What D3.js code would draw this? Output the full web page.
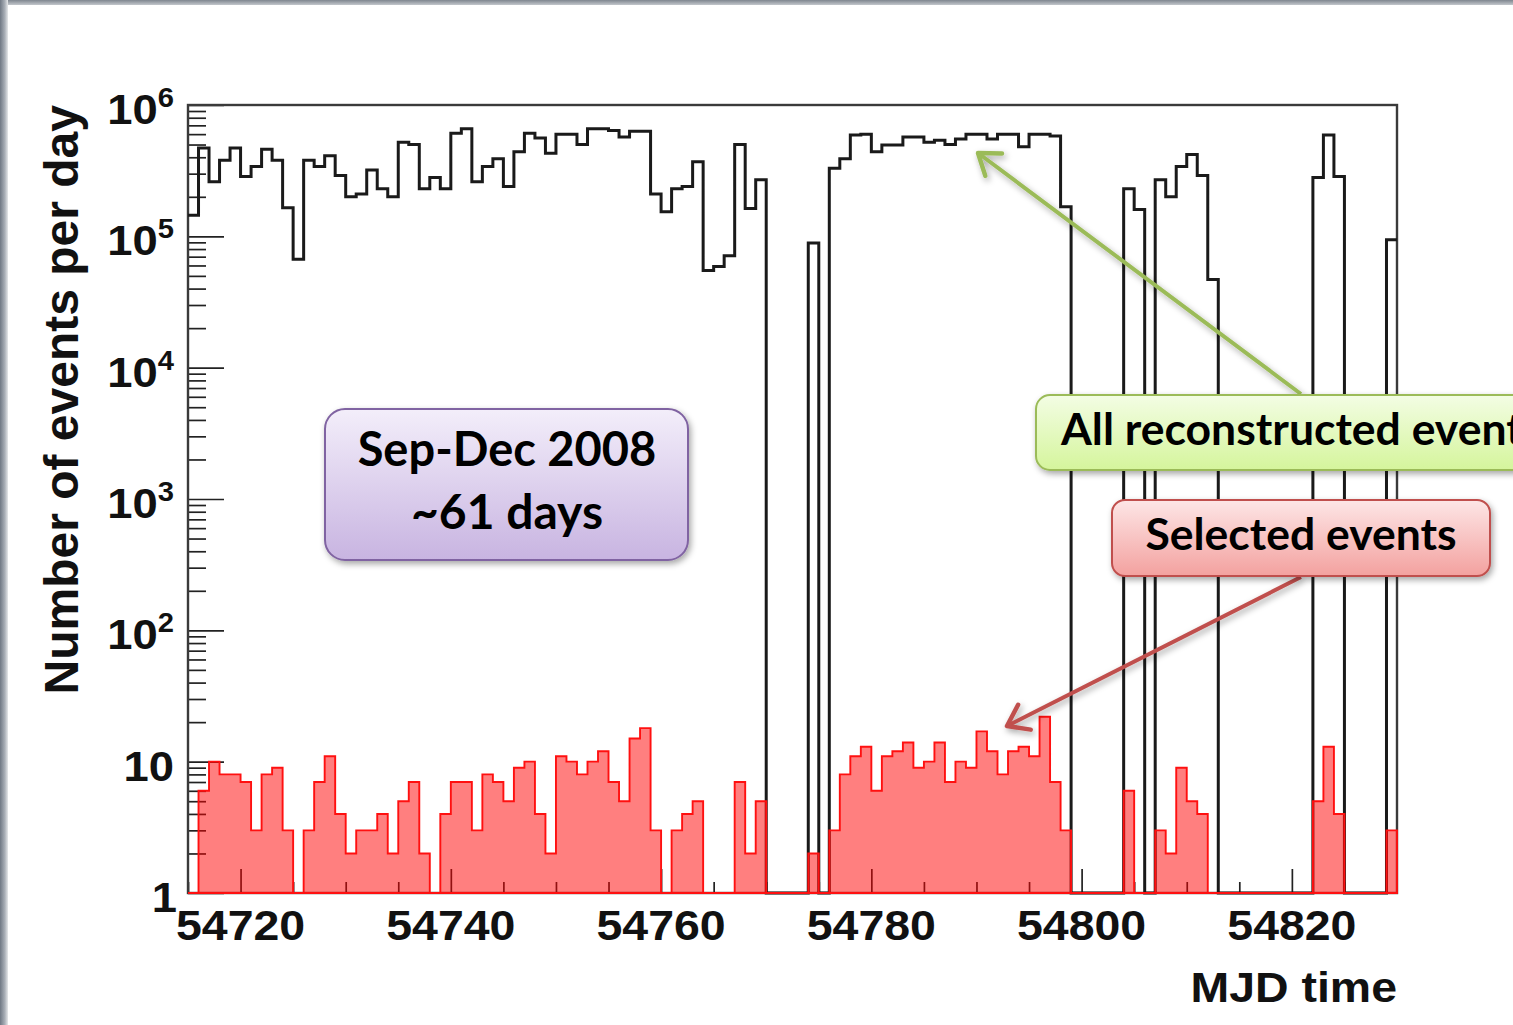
<!DOCTYPE html>
<html>
<head>
<meta charset="utf-8">
<script src="https://cdn.jsdelivr.net/npm/d3@7"></script>
<style>
html, body { margin:0; padding:0; background:#fff; overflow:hidden; }
svg { display:block; }
.axis-text { font-family: "Liberation Sans", Arial, Helvetica, sans-serif; font-weight: bold; fill: #111; }
.note { font-family: Lato, "Open Sans", sans-serif; font-weight: bold; fill: #000; }
</style>
</head>
<body>
<svg id="chart" width="1513" height="1025"></svg>
<script>
// one bin per MJD day, 54715 .. 54829
var days = d3.range(54715, 54830);

var allEvents = [
  1.45e5, 4.7e5, 2.6e5, 3.8e5, 4.7e5, 2.85e5, 3.4e5, 4.6e5, 3.8e5, 1.65e5,
  6.7e4, 3.8e5, 3.4e5, 4.1e5, 2.9e5, 2.0e5, 2.1e5, 3.2e5, 2.3e5, 2.0e5,
  5.2e5, 5.0e5, 2.3e5, 2.8e5, 2.3e5, 6.1e5, 6.6e5, 2.6e5, 3.4e5, 3.9e5,
  2.4e5, 4.4e5, 6.1e5, 5.6e5, 4.3e5, 6.0e5, 6.0e5, 5.0e5, 6.6e5, 6.6e5,
  6.4e5, 5.7e5, 6.3e5, 6.3e5, 2.1e5, 1.54e5, 2.3e5, 2.4e5, 3.7e5, 5.5e4,
  5.9e4, 7.1e4, 5.0e5, 1.63e5, 2.7e5, 0, 0, 0, 0, 8.9e4,
  0, 3.3e5, 3.9e5, 5.9e5, 6.0e5, 4.4e5, 4.95e5, 4.95e5, 5.7e5, 5.7e5,
  5.2e5, 5.4e5, 5.0e5, 5.5e5, 6.0e5, 6.0e5, 5.5e5, 6.0e5, 6.0e5, 4.8e5,
  6.0e5, 6.0e5, 5.8e5, 1.68e5, 0, 0, 0, 0, 0, 2.3e5,
  1.6e5, 0, 2.7e5, 2.0e5, 3.4e5, 4.2e5, 2.9e5, 4.7e4, 0, 0,
  0, 0, 0, 0, 0, 0, 0, 2.8e5, 5.9e5, 2.85e5,
  0, 0, 0, 0, 9.4e4
];

var selectedEvents = [
  0, 6, 10, 8, 8, 7, 3, 8, 9, 3,
  0, 3, 7, 11, 4, 2, 3, 3, 4, 2,
  5, 7, 2, 0, 4, 7, 7, 3, 8, 7,
  5, 9, 10, 4, 2, 11, 10, 8, 10, 12,
  7, 5, 15, 18, 3, 0, 3, 4, 5, 0,
  0, 0, 7, 2, 5, 0, 0, 0, 0, 2,
  0, 3, 8, 11, 13, 6, 11, 12, 14, 9,
  10, 14, 7, 10, 9, 17, 12, 8, 12, 13,
  11, 22, 7, 3, 0, 0, 0, 0, 0, 6,
  0, 0, 3, 2, 9, 5, 4, 0, 0, 0,
  0, 0, 0, 0, 0, 0, 0, 5, 13, 4,
  0, 0, 0, 0, 3
];

var xMajorTicks = [54720, 54740, 54760, 54780, 54800, 54820];
var xMinorTicks = [54715, 54725, 54730, 54735, 54745, 54750, 54755, 54765, 54770, 54775,
                   54785, 54790, 54795, 54805, 54810, 54815, 54825];
var yExponents = [0, 1, 2, 3, 4, 5, 6];

var width = 1513, height = 1025;
var plotLeft = 188, plotRight = 1397, plotTop = 105, plotBottom = 893;
var sx = 1.08; // text in the slide is a bit wider than it is tall

var svg = d3.select("#chart");
var defs = svg.append("defs");

var x = d3.scaleLinear().domain([54715, 54830]).range([plotLeft, plotRight]);
var y = d3.scaleLog().domain([1, 1e6]).range([plotBottom, plotTop]);

function yv(v){
    return v > 0 ? y(v) : y(1);
}

function addGradient(id, x2, y2, stops){
    var g = defs.append("linearGradient").attr("id", id)
        .attr("x1", 0).attr("y1", 0).attr("x2", x2).attr("y2", y2);
    stops.forEach(function(s){
        g.append("stop").attr("offset", s[0]).attr("stop-color", s[1]);
    });
}

addGradient("gPurple", 0, 1, [[0, "#f3eefa"], [1, "#c8b4e1"]]);
addGradient("gGreen", 0, 1, [[0, "#f3fde4"], [1, "#d5f59c"]]);
addGradient("gRed", 0, 1, [[0, "#fde6e6"], [1, "#f3a19f"]]);
addGradient("gTop", 0, 1, [[0, "#7f868f"], [1, "#c3c7cc"]]);
addGradient("gLeft", 1, 0, [[0, "#6f7884"], [0.6, "#a9afb7"], [1, "#e6e8ea"]]);

var shadow = defs.append("filter").attr("id", "shadow")
    .attr("x", "-20%").attr("y", "-20%").attr("width", "140%").attr("height", "160%");
shadow.append("feDropShadow").attr("dx", 2).attr("dy", 3).attr("stdDeviation", 3)
    .attr("flood-color", "#000").attr("flood-opacity", 0.35);

// slide edges
svg.append("rect").attr("x", 0).attr("y", 0).attr("width", width).attr("height", 5).attr("fill", "url(#gTop)");
svg.append("rect").attr("x", 0).attr("y", 0).attr("width", 8).attr("height", height).attr("fill", "url(#gLeft)");

// ticks, drawn inside the frame like ROOT does
var yMinor = [];
yExponents.slice(0, 6).forEach(function(e){
    for(var k = 2; k <= 9; k++){ yMinor.push(k * Math.pow(10, e)); }
});

var axes = svg.append("g").attr("class", "axes");

axes.append("g")
    .attr("transform", "translate(" + plotLeft + ",0)")
    .call(d3.axisLeft(y).tickValues(yExponents.map(function(e){ return Math.pow(10, e); }))
        .tickSize(-36).tickFormat(""))
    .call(function(g){ g.select(".domain").remove(); });
axes.append("g")
    .attr("transform", "translate(" + plotLeft + ",0)")
    .call(d3.axisLeft(y).tickValues(yMinor).tickSize(-18).tickFormat(""))
    .call(function(g){ g.select(".domain").remove(); });
axes.append("g")
    .attr("transform", "translate(0," + plotBottom + ")")
    .call(d3.axisBottom(x).tickValues(xMajorTicks).tickSize(-24).tickFormat(""))
    .call(function(g){ g.select(".domain").remove(); });
axes.append("g")
    .attr("transform", "translate(0," + plotBottom + ")")
    .call(d3.axisBottom(x).tickValues(xMinorTicks).tickSize(-11).tickFormat(""))
    .call(function(g){ g.select(".domain").remove(); });
axes.selectAll(".tick line").attr("stroke", "#222").attr("stroke-width", 1.7);

svg.append("rect")
    .attr("x", plotLeft).attr("y", plotTop)
    .attr("width", plotRight - plotLeft).attr("height", plotBottom - plotTop)
    .attr("fill", "none").attr("stroke", "#3a3a3a").attr("stroke-width", 2.4);

// histograms
var allPts = days.map(function(d, i){ return [d, allEvents[i]]; });
allPts.push([54830, allEvents[allEvents.length - 1]]);
var selPts = days.map(function(d, i){ return [d, selectedEvents[i]]; });
selPts.push([54830, selectedEvents[selectedEvents.length - 1]]);

var line = d3.line()
    .x(function(d){ return x(d[0]); })
    .y(function(d){ return yv(d[1]); })
    .curve(d3.curveStepAfter);

var area = d3.area()
    .x(function(d){ return x(d[0]); })
    .y0(y(1))
    .y1(function(d){ return yv(d[1]); })
    .curve(d3.curveStepAfter);

svg.append("path")
    .datum(allPts)
    .attr("d", line)
    .attr("fill", "none")
    .attr("stroke", "#1a1a1a")
    .attr("stroke-width", 3);

svg.append("path")
    .datum(selPts)
    .attr("d", area)
    .attr("fill", "rgba(255,0,0,0.5)")
    .attr("stroke", "#ff1010")
    .attr("stroke-width", 1.9);

// axis labels
var xl = svg.append("g").attr("class", "axis-text");
xMajorTicks.forEach(function(v){
    xl.append("text")
        .attr("transform", "translate(" + x(v) + ",940) scale(" + sx + ",1)")
        .attr("text-anchor", "middle")
        .attr("font-size", 43)
        .text(v);
});

xl.append("text")
    .attr("transform", "translate(" + plotRight + ",1002) scale(" + sx + ",1)")
    .attr("text-anchor", "end")
    .attr("font-size", 43)
    .text("MJD time");

yExponents.forEach(function(e){
    var t = xl.append("text")
        .attr("transform", "translate(" + (e === 0 ? 177 : 174) + "," + (y(Math.pow(10, e)) + 19) + ") scale(" + sx + ",1)")
        .attr("text-anchor", "end")
        .attr("font-size", 42);
    if(e === 0){
        t.text("1");
    } else if(e === 1){
        t.text("10");
    } else {
        t.append("tspan").text("10");
        t.append("tspan").attr("font-size", 27).attr("dy", -17).text(e);
    }
});

xl.append("text")
    .attr("transform", "translate(78," + plotTop + ") rotate(-90)")
    .attr("text-anchor", "end")
    .attr("font-size", 48)
    .text("Number of events per day");

// annotations
function arrow(x1, y1, x2, y2, color){
    var g = svg.append("g").attr("filter", "url(#shadow)");
    var a = Math.atan2(y2 - y1, x2 - x1);
    var len = 24, spread = 0.62;
    var p1 = [x2 - len * Math.cos(a - spread), y2 - len * Math.sin(a - spread)];
    var p2 = [x2 - len * Math.cos(a + spread), y2 - len * Math.sin(a + spread)];
    g.append("line")
        .attr("x1", x1).attr("y1", y1).attr("x2", x2).attr("y2", y2)
        .attr("stroke", color).attr("stroke-width", 4);
    g.append("path")
        .attr("d", "M" + p1 + "L" + x2 + "," + y2 + "L" + p2)
        .attr("fill", "none").attr("stroke", color).attr("stroke-width", 4.5)
        .attr("stroke-linecap", "round").attr("stroke-linejoin", "round");
}

function box(bx, by, bw, bh, r, fill, stroke){
    svg.append("rect")
        .attr("x", bx).attr("y", by).attr("width", bw).attr("height", bh)
        .attr("rx", r).attr("ry", r)
        .attr("fill", fill).attr("stroke", stroke).attr("stroke-width", 2)
        .attr("filter", "url(#shadow)");
}

arrow(1301, 394, 978, 153, "#9bbb59");
arrow(1301, 577, 1007, 726, "#c0504d");

box(325, 409, 363, 151, 20, "url(#gPurple)", "#8064a2");
svg.append("text").attr("class", "note")
    .attr("x", 507).attr("y", 466).attr("text-anchor", "middle")
    .attr("font-size", 47).text("Sep-Dec 2008");
svg.append("text").attr("class", "note")
    .attr("x", 507).attr("y", 529).attr("text-anchor", "middle")
    .attr("font-size", 48).text("~61 days");

// the slide crops this box at its right edge
box(1036, 395, 540, 75, 14, "url(#gGreen)", "#9bbb59");
svg.append("text").attr("class", "note")
    .attr("x", 1061).attr("y", 445)
    .attr("font-size", 44.5).text("All reconstructed events");

box(1112, 500, 378, 76, 13, "url(#gRed)", "#c0504d");
svg.append("text").attr("class", "note")
    .attr("x", 1301).attr("y", 550).attr("text-anchor", "middle")
    .attr("font-size", 44.5).text("Selected events");
</script>
</body>
</html>
